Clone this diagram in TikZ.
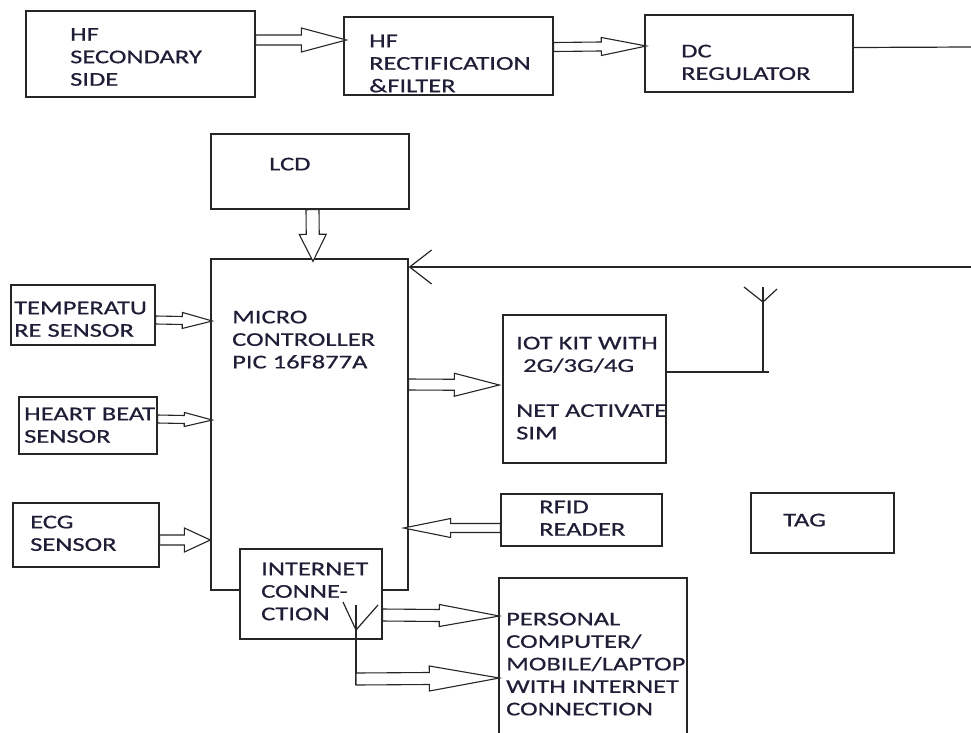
\documentclass[tikz,border=0pt]{standalone}
\usepackage{fontspec}
\setmainfont{Carlito}[FakeStretch=1.36,FakeBold=0.6]
\usetikzlibrary{arrows.meta,calc}
\definecolor{inkText}{RGB}{30,30,55}

% hollow block arrow: half shaft, half head, head length, from, to
\newcommand{\fatarrow}[5]{%
  \draw[fat] let \p1=#4, \p2=#5,
      \n1={veclen(\x2-\x1,\y2-\y1)},
      \n2={(\x2-\x1)/\n1}, \n3={(\y2-\y1)/\n1}
    in (\x1-#1*\n3,\y1+#1*\n2)
    -- (\x2-#3*\n2-#1*\n3,\y2-#3*\n3+#1*\n2)
    -- (\x2-#3*\n2-#2*\n3,\y2-#3*\n3+#2*\n2)
    -- (\x2,\y2)
    -- (\x2-#3*\n2+#2*\n3,\y2-#3*\n3-#2*\n2)
    -- (\x2-#3*\n2+#1*\n3,\y2-#3*\n3-#1*\n2)
    -- (\x1+#1*\n3,\y1-#1*\n2) -- cycle;}

\begin{document}
\begin{tikzpicture}[
  x=1pt, y=-1pt,
  font=\fontsize{19.5pt}{22.5pt}\selectfont,
  blk/.style={
    rectangle,
    draw=black!85,
    line width=1.3pt,
    inner sep=0pt,
  },
  txt/.style={
    anchor=north west,
    inner sep=0pt,
    align=left,
    text=inkText,
  },
  fat/.style={draw=black!85, line width=1.1pt, fill=white},
  wire/.style={draw=black!85, line width=1.2pt},
]

  \useasboundingbox (0,0) rectangle (971,732);
  \clip (0,0) rectangle (971,732);

  % power chain
  \node[blk, minimum width=229pt, minimum height=86pt] (hfs) at (140.5,54) {};
  \node[blk, minimum width=209pt, minimum height=78pt] (hfr) at (448.5,56) {};
  \node[blk, minimum width=208pt, minimum height=77pt] (dc) at (749,53.5) {};
  \node[txt] (hfsT) at (70,28) {HF\\SECONDARY\\SIDE};
  \node[txt] (hfrT) at (369,34.5) {HF\\RECTIFICATION\\\&FILTER};
  \node[txt] (dcT) at (681,44.5) {DC\\REGULATOR};

  \fatarrow{5}{12}{45}{([yshift=14pt]hfs.east)}{([yshift=16pt,xshift=3pt]hfr.west)}
  \fatarrow{4.5}{9}{45}{([yshift=9pt]hfr.east)}{([yshift=7.5pt,xshift=2pt]dc.west)}

  \coordinate (dcout) at (971,47);
  \draw[wire] ([yshift=6pt]dc.east) -- (dcout);

  % controller and display
  \node[blk, minimum width=198pt, minimum height=75pt] (lcd) at (310,171.5) {};
  \node[txt] (lcdT) at (269,157.5) {LCD};
  \node[blk, minimum width=197pt, minimum height=331pt] (mcu) at (309.5,424.5) {};
  \node[txt] (mcuT) at (232,310.5) {MICRO\\CONTROLLER\\PIC 16F877A};
  \node[blk, fill=white, minimum width=142pt, minimum height=90pt] (net) at (311,594) {};
  \node[txt] (netT) at (261,562.5) {INTERNET\\CONNE-\\CTION};

  \fatarrow{6.5}{13.5}{27}{([xshift=2.5pt]lcd.south)}{([xshift=3.5pt,yshift=-3pt]mcu.north)}

  \coordinate (fb) at (971,267);
  \draw[wire, -{Straight Barb[length=22pt,width=34pt]}] (fb) -- (fb -| mcu.east);

  % sensors
  \node[blk, minimum width=144pt, minimum height=60pt] (temp) at (83,315) {};
  \node[blk, minimum width=138pt, minimum height=57pt] (heart) at (88,425.5) {};
  \node[blk, minimum width=146pt, minimum height=64pt] (ecg) at (86,535) {};
  \node[txt] (tempT) at (14,301.5) {TEMPERATU\\RE SENSOR};
  \node[txt] (heartT) at (24,407.5) {HEART BEAT\\SENSOR};
  \node[txt] (ecgT) at (30,515.5) {ECG\\SENSOR};

  \fatarrow{4}{8}{30}{([yshift=-5pt]temp.east)}{([yshift=103.5pt,xshift=2pt]mcu.west)}
  \fatarrow{4}{7}{28}{([yshift=6.5pt]heart.east)}{([yshift=4.5pt,xshift=2pt]mcu.west)}
  \fatarrow{5}{12}{26}{([yshift=-5pt]ecg.east)}{([yshift=-115.5pt]mcu.west)}

  % iot side
  \node[blk, minimum width=163pt, minimum height=148pt] (iot) at (584.5,389) {};
  \node[txt] (iotT) at (516,336.5)
    {IOT KIT WITH\\\hspace*{7pt}2G/3G/4G\\\mbox{}\\NET ACTIVATE\\SIM};
  \node[blk, minimum width=161pt, minimum height=52pt] (rfid) at (581.5,520) {};
  \node[txt] (rfidT) at (539,500.5) {RFID\\READER};
  \node[blk, minimum width=143pt, minimum height=60pt] (tag) at (822.5,523) {};
  \node[txt] (tagT) at (783,513.5) {TAG};
  \node[blk, minimum width=188pt, minimum height=172pt] (pc) at (593,664) {};
  \node[txt] (pcT) at (506,612.5)
    {PERSONAL\\COMPUTER/\\MOBILE/LAPTOP\\WITH INTERNET\\CONNECTION};

  \fatarrow{5.5}{11.5}{45}{([yshift=40pt]mcu.east)}{([yshift=4pt,xshift=-3pt]iot.west)}
  \fatarrow{4.5}{9.5}{47}{([yshift=-8pt]rfid.west)}{([yshift=-103.5pt,xshift=-5pt]mcu.east)}

  % antennas
  \coordinate (ant1) at (763,372);
  \draw[wire] ([yshift=17pt]iot.east) -- ([xshift=6pt]ant1);
  \draw[wire] (ant1) -- ++(0,-85);
  \draw[wire] ([yshift=70pt]ant1) ++(-19,-15) -- ++(19,15) -- ++(14,-13);

  \coordinate (nettop) at (356,605);
  \coordinate (netbot) at (356,685);
  \draw[wire] (nettop) -- (netbot);
  \draw[wire] (343,602) -- (356,630) -- (378,605);

  \fatarrow{6}{11}{60}{([yshift=-21pt]net.east)}{([yshift=48pt,xshift=1pt]pc.west)}
  \fatarrow{6}{12.5}{70}{([yshift=6pt]netbot)}{([yshift=-14pt,xshift=1pt]pc.west)}

\end{tikzpicture}
\end{document}
